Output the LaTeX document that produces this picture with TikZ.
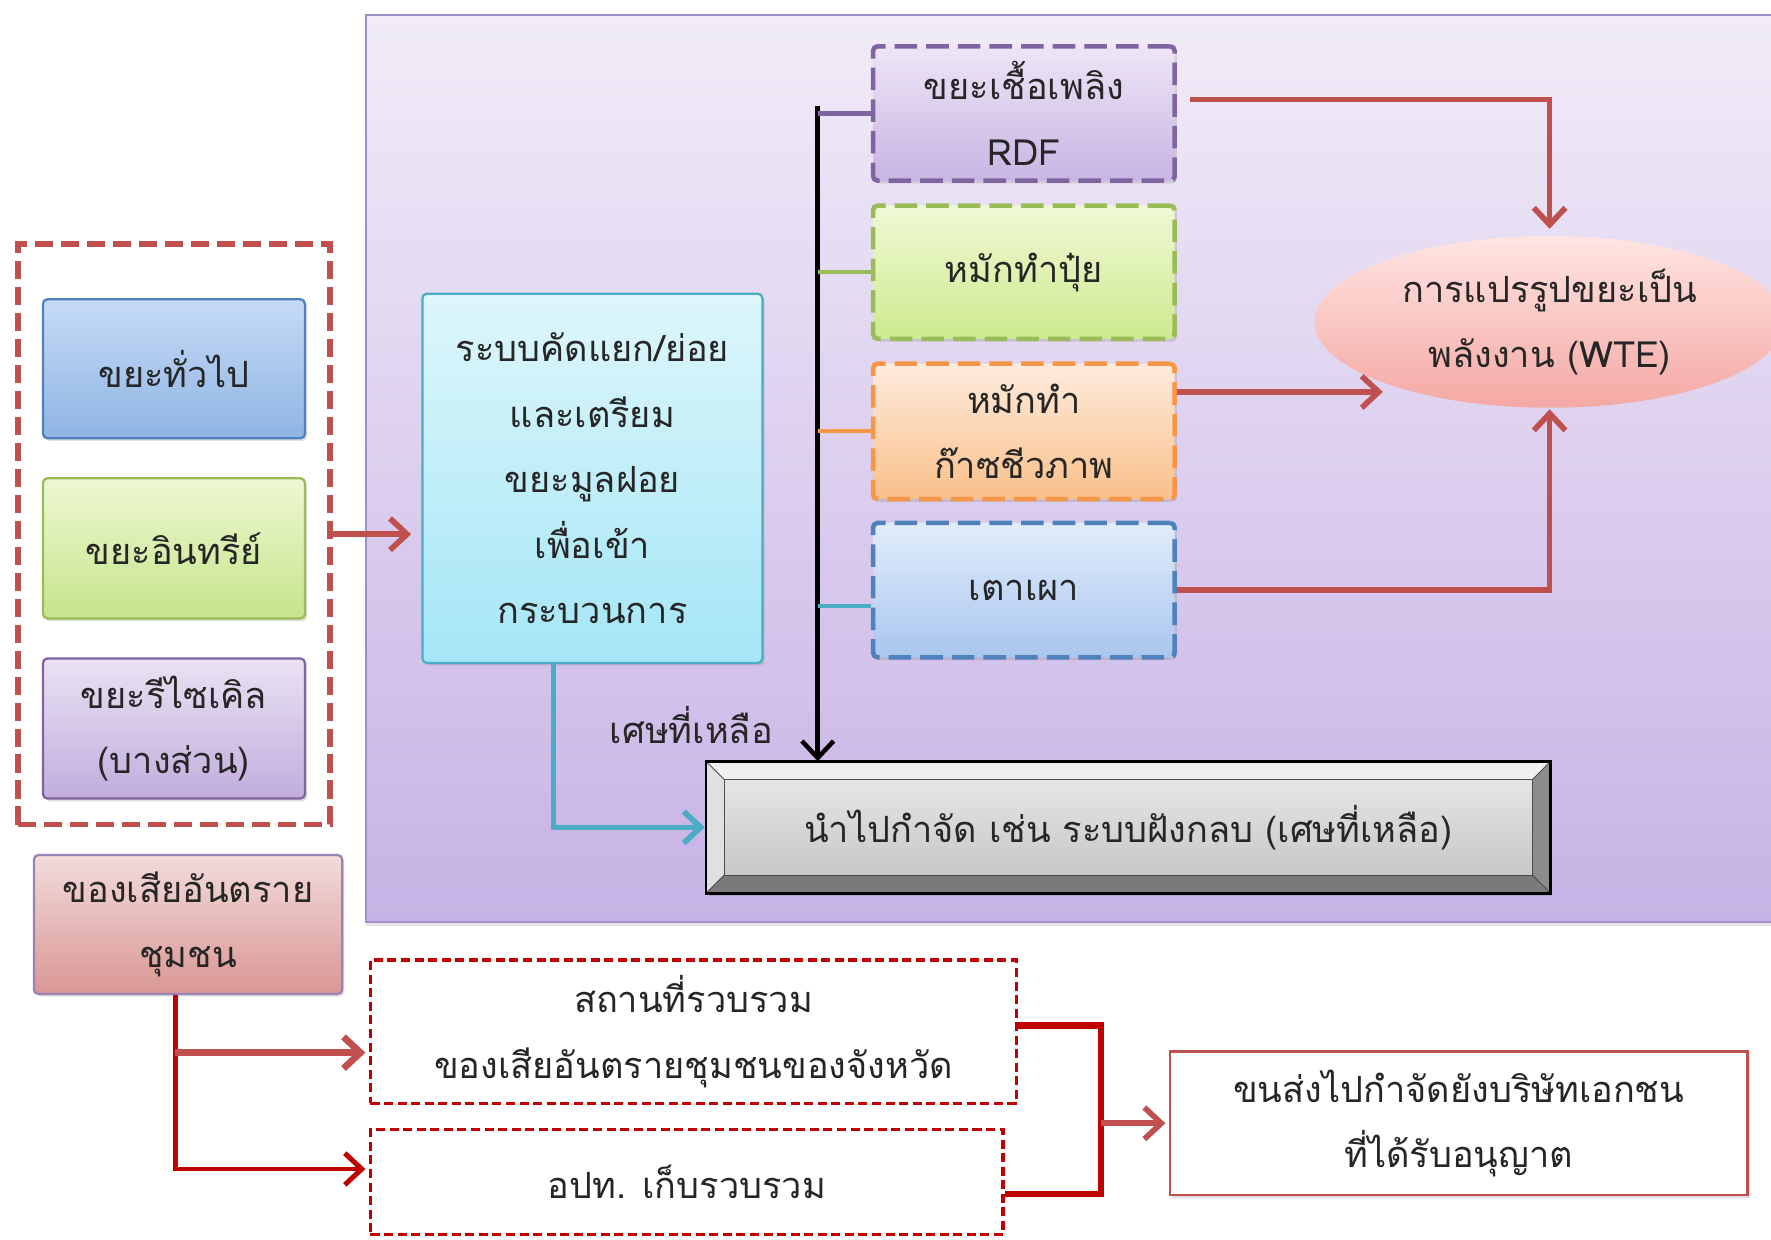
\documentclass[tikz,border=0pt]{standalone}
\usepackage{fontspec}
\setmainfont[Script=Thai]{Loma}
\usetikzlibrary{arrows.meta,calc,shapes.geometric,shadows}
\definecolor{txt}{HTML}{262626}
\definecolor{accred}{HTML}{C0504D}
\definecolor{dkred}{HTML}{C00000}
\definecolor{bgtop}{HTML}{F1ECF8}
\definecolor{bgbot}{HTML}{C7B2E5}
\definecolor{bgline}{HTML}{9F8FC9}
\definecolor{blueline}{HTML}{4F81BD}
\definecolor{greenline}{HTML}{9BBB59}
\definecolor{purpline}{HTML}{8064A2}
\definecolor{cyanline}{HTML}{4BACC6}
\definecolor{orangeline}{HTML}{F79646}
\definecolor{gentop}{HTML}{C6DBF7}\definecolor{genbot}{HTML}{8FB4E3}
\definecolor{orgtop}{HTML}{EEF8D2}\definecolor{orgbot}{HTML}{C5E48A}
\definecolor{rectop}{HTML}{E9E2F3}\definecolor{recbot}{HTML}{C1ADDD}
\definecolor{sorttop}{HTML}{DDF6FB}\definecolor{sortbot}{HTML}{A5E6F6}
\definecolor{rdftop}{HTML}{EDE5F6}\definecolor{rdfbot}{HTML}{C9B5E3}
\definecolor{comptop}{HTML}{F0F9D5}\definecolor{compbot}{HTML}{CDEA8F}
\definecolor{biotop}{HTML}{FDEBDC}\definecolor{biobot}{HTML}{F9C08A}
\definecolor{inctop}{HTML}{E1ECFB}\definecolor{incbot}{HTML}{A9C6EE}
\definecolor{haztop}{HTML}{F2DCDB}\definecolor{hazbot}{HTML}{D99694}
\definecolor{wtetop}{HTML}{FFE5E2}\definecolor{wtebot}{HTML}{F4A8A4}
\begin{document}
\begin{tikzpicture}[x=0.5pt,y=-0.5pt,
  font=\fontsize{16pt}{29pt}\selectfont,
  box/.style={rectangle, rounded corners=2pt, draw, line width=1pt, align=center,
    inner sep=0pt, text=txt,
    drop shadow={opacity=0.25, shadow xshift=1pt, shadow yshift=-1.2pt}},
  dbox/.style={box, line width=2pt, dash pattern=on 10pt off 4pt},
  rdbox/.style={rectangle, draw=dkred, line width=1.5pt, dash pattern=on 4pt off 2pt,
    fill=white, align=center, inner sep=0pt, text=txt},
  rarrow/.style={draw=accred, line width=2.5pt, -{Straight Barb[length=7.5pt,width=14pt]}},
  hzline/.style={draw=dkred, line width=2.2pt},
  barb/.style={-{Straight Barb[length=7.5pt,width=14pt]}}
]
\path[use as bounding box] (0,0) rectangle (1568,1097);

% background panel
\node[rectangle, draw=bgline, line width=1pt, top color=bgtop, bottom color=bgbot,
  minimum width=640pt, minimum height=401.5pt, anchor=north west, inner sep=0pt,
  drop shadow={opacity=0.2, shadow xshift=0pt, shadow yshift=-2pt}] (bg) at (323,12) {};

% left group
\node[rectangle, draw=accred, line width=2.5pt, dash pattern=on 8pt off 3.5pt,
  minimum width=138pt, minimum height=257pt, inner sep=0pt] (group) at (154,473) {};
\node[box, draw=blueline, top color=gentop, bottom color=genbot,
  minimum width=116pt, minimum height=61.5pt] (gen) at (154,326.5) {ขยะทั่วไป};
\node[box, draw=greenline, top color=orgtop, bottom color=orgbot,
  minimum width=116pt, minimum height=62pt] (org) at (154,485.5) {ขยะอินทรีย์};
\node[box, draw=purpline, top color=rectop, bottom color=recbot,
  minimum width=116pt, minimum height=62pt] (rec) at (154,645) {ขยะรีไซเคิล\\(บางส่วน)};

% sorting
\node[box, draw=cyanline, top color=sorttop, bottom color=sortbot,
  minimum width=150.5pt, minimum height=163.5pt] (sort) at (524.5,423.5)
  {ระบบคัดแยก/ย่อย\\และเตรียม\\ขยะมูลฝอย\\เพื่อเข้า\\กระบวนการ};

% processes
\node[dbox, draw=purpline, top color=rdftop, bottom color=rdfbot,
  minimum width=133.5pt, minimum height=59.5pt] (rdf) at (906.5,100.5) {ขยะเชื้อเพลิง\\RDF};
\node[dbox, draw=greenline, top color=comptop, bottom color=compbot,
  minimum width=133.5pt, minimum height=59pt] (comp) at (906.5,241) {หมักทำปุ๋ย};
\node[dbox, draw=orangeline, top color=biotop, bottom color=biobot,
  minimum width=133.5pt, minimum height=60pt] (bio) at (906.5,382) {หมักทำ\\ก๊าซชีวภาพ};
\node[dbox, draw=blueline, top color=inctop, bottom color=incbot,
  minimum width=133.5pt, minimum height=59.5pt] (inc) at (906.5,522.5) {เตาเผา};

% WTE
\node[ellipse, top color=wtetop, bottom color=wtebot, minimum width=208pt,
  minimum height=76pt, inner sep=0pt, align=center, text=txt] (wte) at (1372,285)
  {การแปรรูปขยะเป็น\\พลังงาน (WTE)};

% landfill bevel box
\node[rectangle, draw=black, line width=1pt, top color=black!8, bottom color=black!24,
  minimum width=373pt, minimum height=57.5pt, inner sep=0pt, text=txt,
  drop shadow={opacity=0.3, shadow xshift=1pt, shadow yshift=-1.5pt}] (land) at (999,732.5)
  {นำไปกำจัด เช่น ระบบฝังกลบ (เศษที่เหลือ)};
\fill[black!6] (land.north west) -- (land.north east) -- ($(land.north east)+(-16,16)$)
  -- ($(land.north west)+(16,16)$) -- cycle;
\fill[black!12] (land.north west) -- ($(land.north west)+(16,16)$)
  -- ($(land.south west)+(16,-16)$) -- (land.south west) -- cycle;
\fill[black!45] (land.north east) -- ($(land.north east)+(-16,16)$)
  -- ($(land.south east)+(-16,-16)$) -- (land.south east) -- cycle;
\fill[black!52] (land.south west) -- ($(land.south west)+(16,-16)$)
  -- ($(land.south east)+(-16,-16)$) -- (land.south east) -- cycle;
\draw[black!70, line width=0.4pt] ($(land.north west)+(16,16)$) rectangle ($(land.south east)+(-16,-16)$);
\draw[black!70, line width=0.4pt] (land.north west) -- ($(land.north west)+(16,16)$)
  (land.north east) -- ($(land.north east)+(-16,16)$)
  (land.south west) -- ($(land.south west)+(16,-16)$)
  (land.south east) -- ($(land.south east)+(-16,-16)$);
\draw[black, line width=1.2pt] (land.north west) rectangle (land.south east);

\node[text=txt, inner sep=0pt] (lbl) at (612,642) {เศษที่เหลือ};

% hazardous
\node[box, draw=purpline!80, top color=haztop, bottom color=hazbot,
  minimum width=136.5pt, minimum height=61.5pt] (haz) at (166.5,818.5) {ของเสียอันตราย\\ชุมชน};
\node[rdbox, minimum width=286pt, minimum height=63.5pt] (col1) at (614,913.5)
  {สถานที่รวบรวม\\ของเสียอันตรายชุมชนของจังหวัด};
\node[rdbox, minimum width=280pt, minimum height=46.5pt] (col2) at (608,1046.5) {อปท. เก็บรวบรวม};
\node[rectangle, draw=accred, line width=1.2pt, fill=white, align=center, inner sep=0pt,
  text=txt, minimum width=255.5pt, minimum height=63.5pt,
  drop shadow={opacity=0.25, shadow xshift=1pt, shadow yshift=-1.2pt}] (fin) at (1291.5,994.5)
  {ขนส่งไปกำจัดยังบริษัทเอกชน\\ที่ได้รับอนุญาต};

% connectors
\draw[rarrow, shorten >=4.5pt] (group.east) -- (group.east -| sort.west);

\coordinate (trunk) at ($(rdf.west)+(-47,-7)$);
\draw[black, line width=2pt, barb] (trunk) -- (trunk |- land.north);
\draw[purpline, line width=1.8pt] (trunk |- rdf.west) -- (rdf.west);
\draw[greenline, line width=1.8pt] (trunk |- comp.west) -- (comp.west);
\draw[orangeline, line width=1.8pt] (trunk |- bio.west) -- (bio.west);
\coordinate (incin) at ($(inc.west)+(0,14)$);
\draw[cyanline, line width=1.8pt] (trunk |- incin) -- (incin);

\draw[rarrow, shorten >=3pt] ($(rdf.east)+(12,-12.5)$) -| (wte.north);
\draw[rarrow, shorten >=13pt] (bio.east |- wte.207) -- (wte.207);
\draw[rarrow, shorten >=0.5pt] (inc.east) -| (wte.south);

\draw[cyanline, line width=2.5pt, barb, shorten >=0.5pt] ($(sort.south)+(-34.5,0)$) |- (land.west);

\coordinate (hz) at ($(haz.south)+(-11.5,0)$);
\coordinate (c1in) at ($(col1.west)+(0,18.5)$);
\coordinate (c2in) at ($(col2.west)+(0,-11.5)$);
\draw[hzline, barb, shorten >=1.5pt] (hz) |- (c2in);
\draw[rarrow, line width=3pt, shorten >=1.5pt] (hz |- c1in) -- (c1in);

\coordinate (b1) at ($(col1.east)+(0,-5.5)$);
\coordinate (b2) at ($(col2.east)+(0,10.5)$);
\draw[hzline, line width=2.8pt] (b1) -- ++(73,0) coordinate (bk) |- (b2);
\draw[rarrow, shorten >=1.5pt] (bk |- fin.west) -- (fin.west);
\end{tikzpicture}
\end{document}
